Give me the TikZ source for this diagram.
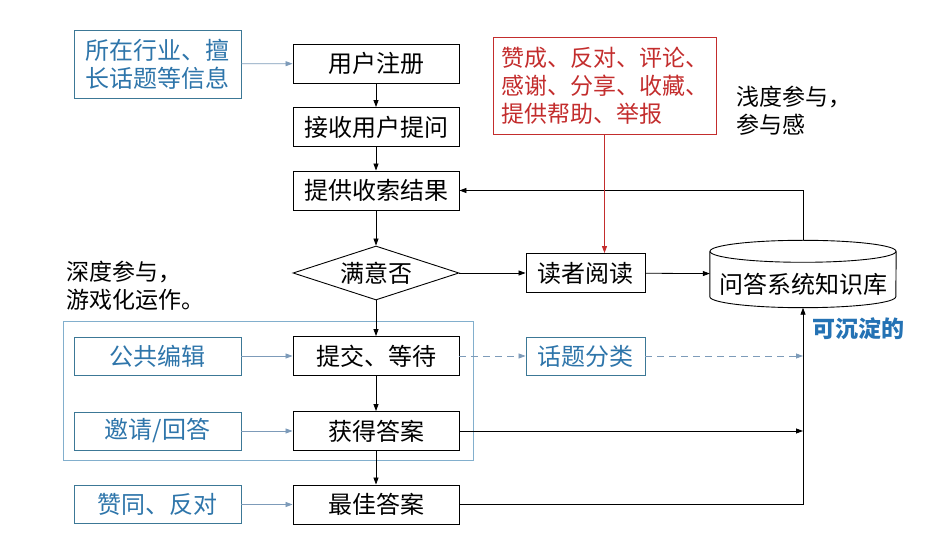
\documentclass[tikz,border=0pt]{standalone}
\usepackage{fontspec}
\setmainfont{Noto Sans CJK SC}
\usepackage{xcolor}
\usepackage{tikz}
\usetikzlibrary{arrows.meta,positioning,shapes.geometric}

\definecolor{infoblue}{RGB}{46,117,170}
\definecolor{infoline}{RGB}{60,120,150}
\definecolor{infoarrow}{RGB}{125,155,185}
\definecolor{groupline}{RGB}{130,175,205}
\definecolor{likered}{RGB}{195,45,45}
\definecolor{keepblue}{RGB}{36,114,180}

\begin{document}
\begin{tikzpicture}[x=1pt, y=-1pt,
    flowbox/.style={draw, line width=0.9pt, minimum width=166pt, minimum height=39pt, inner sep=0pt, font=\fontsize{24}{28}\selectfont},
    smallbox/.style={flowbox, minimum width=119pt},
    infobox/.style={draw=infoline, line width=0.9pt, text=infoblue, minimum width=167pt, minimum height=38pt, inner sep=0pt, align=center, font=\fontsize{24}{28}\selectfont},
    decision/.style={diamond, draw, line width=0.9pt, aspect=3, inner sep=0pt, minimum width=166pt, minimum height=54pt, font=\fontsize{24}{28}\selectfont},
    kbnode/.style={minimum width=186pt, minimum height=67pt, inner sep=0pt, text height=42pt, text depth=3pt, font=\fontsize{24}{28}\selectfont},
    arr/.style={-{Triangle[length=7pt,width=5pt]}, line width=0.8pt},
    infoarr/.style={arr, color=infoarrow},
    note/.style={anchor=west, align=left, font=\fontsize{23}{28}\selectfont}
]
    \useasboundingbox (0,0) rectangle (935,553);

    % Main flow
    \node[infobox, minimum height=68pt] (profile) at (157.5,64) {所在行业、擅\\长话题等信息};
    \node[flowbox] (register) at (376,63.5) {用户注册};
    \node[flowbox] (ask) at (376,127) {接收用户提问};
    \node[flowbox] (result) at (376,190.5) {提供收索结果};
    \node[decision] (satisfied) at (376,273) {满意否};
    \node[smallbox] (reader) at (585.5,273) {读者阅读};
    \node[kbnode] (kb) at (803,274) {问答系统知识库};

    % Knowledge base drawn as a cylinder
    \draw[line width=0.9pt] ([yshift=-11pt]kb.north) ellipse [x radius=93pt, y radius=11pt];
    \draw[line width=0.9pt] ([yshift=-11pt]kb.north west) -- ([yshift=11pt]kb.south west)
        arc[start angle=180, end angle=360, x radius=93pt, y radius=11pt] -- ([yshift=-11pt]kb.north east);

    % Light participation
    \node[draw=likered, text=likered, line width=0.9pt, align=left, minimum width=223pt, minimum height=97pt, inner sep=0pt,
        font=\fontsize{23}{28}\selectfont] (likes) at (604.5,85.5) {赞成、反对、评论、\\感谢、分享、收藏、\\提供帮助、举报};
    \node[note] (shallow) at (733,111) {浅度参与，\\参与感};

    % Deep participation group
    \draw[groupline, line width=0.8pt] (63,321) rectangle (473,460);
    \node[note] (deep) at (63,286) {深度参与，\\游戏化运作。};
    \node[infobox] (edit) at (157.5,356) {公共编辑};
    \node[flowbox] (submit) at (376,356) {提交、等待};
    \node[infobox, minimum width=119pt] (topic) at (585.5,356) {话题分类};
    \node[infobox] (invite) at (157.5,431) {邀请/回答};
    \node[flowbox] (answer) at (376,431) {获得答案};
    \node[infobox] (approve) at (157.5,504.5) {赞同、反对};
    \node[flowbox] (best) at (376,504.5) {最佳答案};
    \node[text=keepblue, font=\fontsize{23}{28}\selectfont\bfseries] (keep) at (858,329) {可沉淀的};

    % Connectors
    \draw[infoarr] (profile) -- (register);
    \draw[arr] (register) -- (ask);
    \draw[arr] (ask) -- (result);
    \draw[arr] (result) -- (satisfied);
    \draw[arr] (satisfied) -- (reader);
    \draw[arr] (reader) -- (kb);
    \draw[arr] (kb.north) |- (result.east);
    \draw[arr, color=likered] (likes.south) -- (likes.south |- reader.north);
    \draw[arr] (satisfied) -- (submit);
    \draw[infoarr] (edit) -- (submit);
    \draw[infoarr, dash pattern=on 7pt off 5pt] (submit) -- (topic);
    \draw[infoarr, dash pattern=on 7pt off 5pt] (topic) -- (topic -| kb.south);
    \draw[arr] (submit) -- (answer);
    \draw[infoarr] (invite) -- (answer);
    \draw[arr] (answer) -- (best);
    \draw[infoarr] (approve) -- (best);
    \draw[arr] (answer) -- (answer -| kb.south);
    \draw[arr] (best) -| (kb.south);
\end{tikzpicture}
\end{document}
